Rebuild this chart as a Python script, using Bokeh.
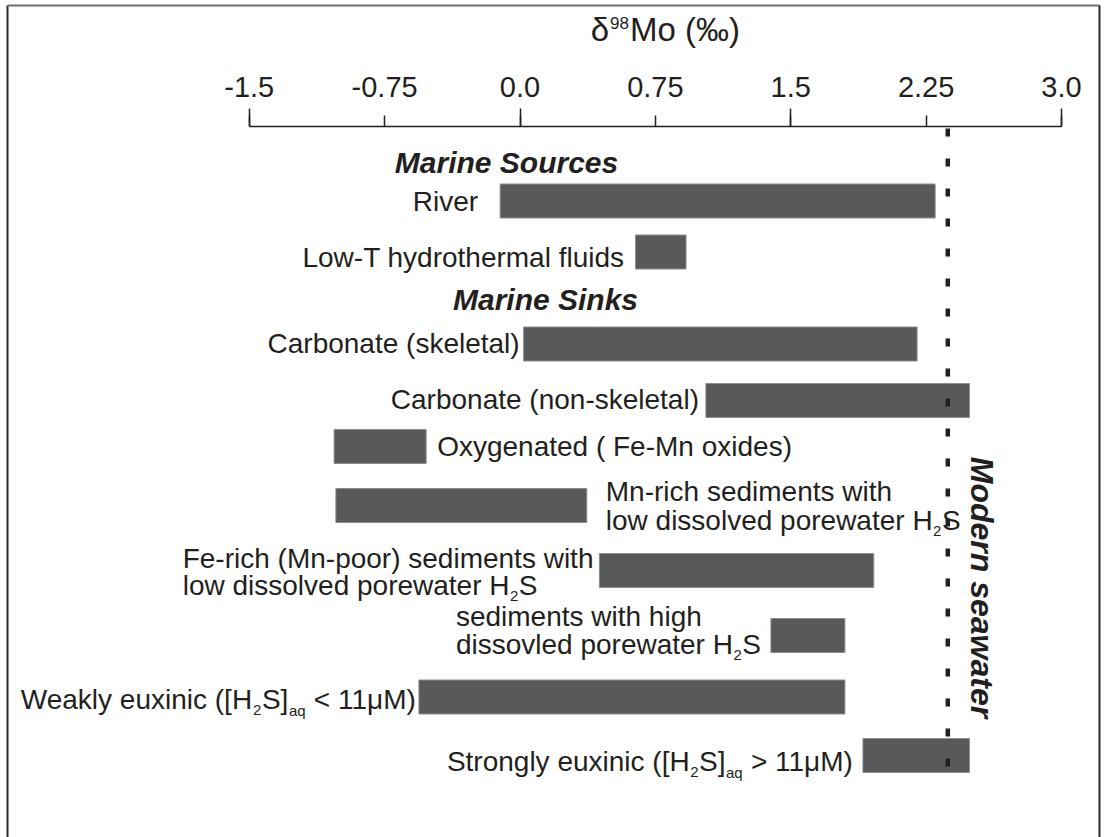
import re
from math import pi
from bokeh.plotting import figure
from bokeh.models import Range1d, LinearAxis, FixedTicker, ColumnDataSource
from bokeh.core.properties import value
from bokeh.embed import file_html
from bokeh.resources import INLINE

# ---------------- data ----------------
categories = [
    "River",
    "Low-T hydrothermal fluids",
    "Carbonate (skeletal)",
    "Carbonate (non-skeletal)",
    "Oxygenated ( Fe-Mn oxides)",
    "Mn-rich sediments with\nlow dissolved porewater H_{2}S",
    "Fe-rich (Mn-poor) sediments with\nlow dissolved porewater H_{2}S",
    "sediments with high\ndissovled porewater H_{2}S",
    "Weakly euxinic ([H_{2}S]_{aq} < 11μM)",
    "Strongly euxinic ([H_{2}S]_{aq} > 11μM)",
]
lows = [-0.11, 0.64, 0.02, 1.03, -1.03, -1.02, 0.44, 1.39, -0.56, 1.90]
highs = [2.30, 0.92, 2.20, 2.49, -0.52, 0.37, 1.96, 1.80, 1.80, 2.49]
seawater = 2.37
tick_values = [-1.5, -0.75, 0.0, 0.75, 1.5, 2.25, 3.0]
tick_labels = ["-1.5", "-0.75", "0.0", "0.75", "1.5", "2.25", "3.0"]
long_ticks = [-1.5, 0.0, 1.5, 3.0]
group_titles = ["Marine Sources", "Marine Sinks"]
axis_title = ["δ", "98", "Mo (‰)"]
seawater_label = "Modern seawater"

# ---------------- layout (pixels) ----------------
W, H = 1107, 837
PX = 180.5          # pixels per permil
X0 = 519.5          # pixel of 0 permil
row_y = [200.5, 251.5, 343.5, 400, 446, 505, 570, 635, 696.5, 755]
# side, gap, first-baseline offset from bar centre, line height
label_layout = [
    ("L", 22, 11, 0), ("L", 11, 16, 0), ("L", 4, 10, 0), ("L", 7, 9.5, 0),
    ("R", 11, 10.5, 0), ("R", 19, -3.3, 28.8), ("L", 6, -1.7, 26.7),
    ("L", 10, -8.3, 27.3), ("L", 1, 12.8, 0), ("L", 8, 16.4, 0),
]
FONT = "Liberation Sans"
INK = "#231f20"
NS, SS, SUBDROP = 28, 15, 6
BASE_K = 0.37   # baseline -> middle-anchor shift (fraction of font size)

AW = {' ': 278, '(': 333, ')': 333, '[': 278, ']': 278, '-': 333, '.': 278,
      '<': 584, '>': 584, 'μ': 576, 'δ': 556, '‰': 1000}
for c in "0123456789":
    AW[c] = 556
for c, w in zip("ABCDEFGHIJKLMNOPQRSTUVWXYZ",
                [667, 667, 722, 722, 667, 611, 778, 722, 278, 500, 667, 556, 833,
                 722, 778, 667, 778, 722, 667, 611, 722, 667, 944, 667, 667, 611]):
    AW[c] = w
for c, w in zip("abcdefghijklmnopqrstuvwxyz",
                [556, 556, 500, 556, 556, 278, 556, 556, 222, 222, 500, 222, 833,
                 556, 556, 556, 556, 333, 500, 278, 556, 500, 722, 500, 500, 500]):
    AW[c] = w


def tw(s, size):
    return sum(AW.get(c, 556) for c in s) * size / 1000.0


def parse(line):
    runs, pos = [], 0
    for m in re.finditer(r"_\{([^}]*)\}", line):
        if m.start() > pos:
            runs.append((line[pos:m.start()], False))
        runs.append((m.group(1), True))
        pos = m.end()
    if pos < len(line):
        runs.append((line[pos:], False))
    return runs


def line_width(runs):
    w = 0
    for t, sub in runs:
        w += tw(t, SS) + 1 if sub else tw(t, NS)
    return w


xs0 = -X0 / PX
xe0 = (W - X0) / PX

p = figure(width=W, height=H, x_range=Range1d(xs0, xe0), y_range=Range1d(H, 0),
           output_backend="svg", toolbar_location=None, x_axis_location=None,
           y_axis_location=None, min_border=0, outline_line_color=None, title=None,
           background_fill_color="white", border_fill_color="white")
p.grid.visible = False

# outer frame (left, top, right)
lx, rx = xs0 + 7 / PX, xs0 + 1099 / PX
p.multi_line(xs=[[lx, lx], [lx, rx], [rx, rx]], ys=[[H, 5], [5, 5], [5, H]],
             line_color=["#2b2b2b", "#6d6e71", "#2b2b2b"], line_width=2)

# top axis
ax = LinearAxis(fixed_location=126,
                ticker=FixedTicker(ticks=tick_values, minor_ticks=long_ticks),
                bounds=(-1.5, 3.0),
                major_label_overrides=dict(zip(tick_values, tick_labels)),
                major_tick_out=11, major_tick_in=0, minor_tick_out=18, minor_tick_in=0,
                axis_line_color=INK, axis_line_width=1.5,
                major_tick_line_color=INK, major_tick_line_width=1.5,
                minor_tick_line_color=INK, minor_tick_line_width=1.5,
                major_label_text_font=FONT, major_label_text_font_size="29px",
                major_label_text_color=INK, major_label_standoff=12)
p.add_layout(ax, "above")

# bars
src = ColumnDataSource(dict(y=row_y, left=lows, right=highs))
p.hbar(y="y", left="left", right="right", height=34, source=src,
       fill_color="#58595b", line_color="#8c8d8f", line_width=1)

# modern seawater line
p.line(x=[seawater, seawater], y=[128, 772], line_width=4.5, line_dash="8 22",
       line_color=INK, line_cap="butt")
p.text(x=[seawater], y=[587], text=[seawater_label], angle=-pi / 2, x_offset=34,
       text_align="center", text_baseline="middle", text_font=value(FONT),
       text_font_size="32px", text_font_style="bold italic", text_color=INK)

# rich text runs
T = dict(x=[], y=[], text=[], xo=[], size=[])


def put(x, baseline, t, xo, size):
    stripped = t.lstrip(" ")
    xo += tw(t[:len(t) - len(stripped)], size)
    T["x"].append(x); T["y"].append(baseline - BASE_K * size); T["text"].append(stripped)
    T["xo"].append(xo); T["size"].append(f"{size}px")


for cat, lo, hi, yc, (side, gap, dy, lh) in zip(categories, lows, highs, row_y, label_layout):
    lines = [parse(l) for l in cat.split("\n")]
    widths = [line_width(r) for r in lines]
    if side == "L":
        anchor, start = lo, -gap - max(widths)
    else:
        anchor, start = hi, gap
    for i, runs in enumerate(lines):
        base = yc + dy + i * lh
        xo = start
        for t, sub in runs:
            if sub:
                put(anchor, base + SUBDROP, t, xo + 0.5, SS)
                xo += tw(t, SS) + 1
            else:
                put(anchor, base, t, xo, NS)
                xo += tw(t, NS)

# axis title with superscript
TS, TSS = 33, 17
tx = 0.75
tot = tw(axis_title[0], TS) + 1 + tw(axis_title[1], TSS) + 1 + tw(axis_title[2], TS)
xo = 10 - tot / 2
put(tx, 41, axis_title[0], xo, TS); xo += tw(axis_title[0], TS) + 1
put(tx, 29, axis_title[1], xo, TSS); xo += tw(axis_title[1], TSS) + 1
put(tx, 41, axis_title[2], xo, TS)

p.text(x="x", y="y", text="text", x_offset="xo", text_font_size="size",
       source=ColumnDataSource(T), text_font=value(FONT), text_color=INK,
       text_align="left", text_baseline="middle")

# group headings
HS = 30
p.text(x=[0.0, 0.0], y=[173 - BASE_K * HS, 310 - BASE_K * HS], text=group_titles,
       x_offset=[-13.5, 25.5], text_align="center", text_baseline="middle",
       text_font=value(FONT), text_font_size=f"{HS}px", text_font_style="bold italic",
       text_color=INK)

open("out.html", "w").write(file_html(p, INLINE))
